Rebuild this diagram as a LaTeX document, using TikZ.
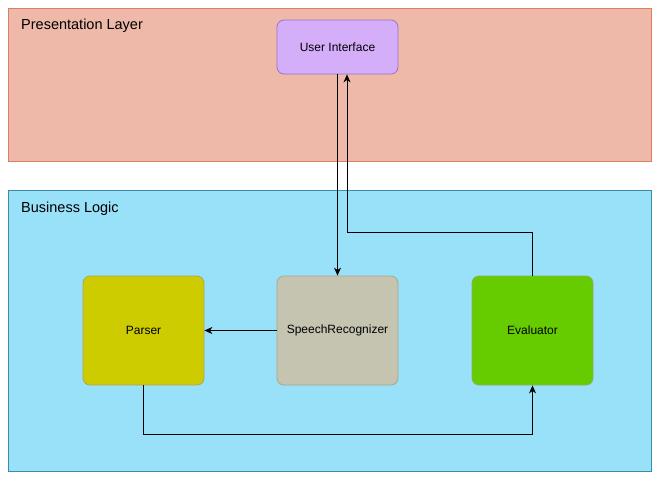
\documentclass[tikz,border=0pt]{standalone}
\usepackage{fontspec}
\setmainfont{Liberation Sans}
\usetikzlibrary{arrows.meta}

\definecolor{praesFill}{HTML}{EEB9A8}
\definecolor{praesRand}{HTML}{DC7E62}
\definecolor{logikFill}{HTML}{99E1F8}
\definecolor{logikRand}{HTML}{3A8CAB}
\definecolor{uiFill}{HTML}{D5AEF9}
\definecolor{uiRand}{HTML}{9A72C6}
\definecolor{parserFill}{HTML}{CCCC00}
\definecolor{parserRand}{HTML}{A8A85A}
\definecolor{srFill}{HTML}{C5C4B0}
\definecolor{srRand}{HTML}{A9A78A}
\definecolor{evalFill}{HTML}{66CC00}
\definecolor{evalRand}{HTML}{8BAE62}

\tikzset{
    schicht/.style={draw, line width=0.8pt, minimum width=643pt, minimum height=#1, inner sep=0pt},
    schichttext/.style={anchor=west, font=\fontsize{14.5}{17}\selectfont, inner sep=0pt},
    baustein/.style={draw, rounded corners=7pt, line width=0.8pt, minimum width=121pt, minimum height=109pt,
                     font=\fontsize{12}{14}\selectfont, inner sep=0pt},
    pfeil/.style={-{Stealth[length=8pt,width=7pt,inset=2.5pt]}, line width=0.8pt}
}

\begin{document}
\begin{tikzpicture}[x=1pt, y=-1pt]
    \useasboundingbox (0,0) rectangle (660,480);

    % Schichten
    \node[schicht=153pt, fill=praesFill, draw=praesRand] (praes) at (329.5,84.5) {};
    \node[schichttext] (praesText) at (21,25.5) {Presentation Layer};
    \node[schicht=281pt, fill=logikFill, draw=logikRand] (logik) at (329.5,330.5) {};
    \node[schichttext] (logikText) at (21,208.5) {Business Logic};

    % Bausteine
    \node[baustein, minimum height=54pt, fill=uiFill, draw=uiRand] (ui) at (337.5,47) {\raisebox{-1.5pt}{User Interface}};
    \node[baustein, fill=parserFill, draw=parserRand] (parser) at (143.5,330.5) {\raisebox{-1.5pt}{Parser}};
    \node[baustein, fill=srFill, draw=srRand] (sr) at (337.5,330.5) {\raisebox{-1.5pt}{SpeechRecognizer}};
    \node[baustein, fill=evalFill, draw=evalRand] (eval) at (532.5,330.5) {\raisebox{-1.5pt}{Evaluator}};

    % Knickpunkte
    \coordinate (rueck) at (347,232);
    \coordinate (unten) at (143.5,434);

    % Verbindungen
    \draw[pfeil] (ui.south) -- (sr.north);
    \draw[pfeil] (eval.north) |- (rueck) -- (rueck |- ui.south);
    \draw[pfeil] (sr.west) -- (parser.east);
    \draw[pfeil] (parser.south) -- (unten) -| (eval.south);

\end{tikzpicture}
\end{document}
